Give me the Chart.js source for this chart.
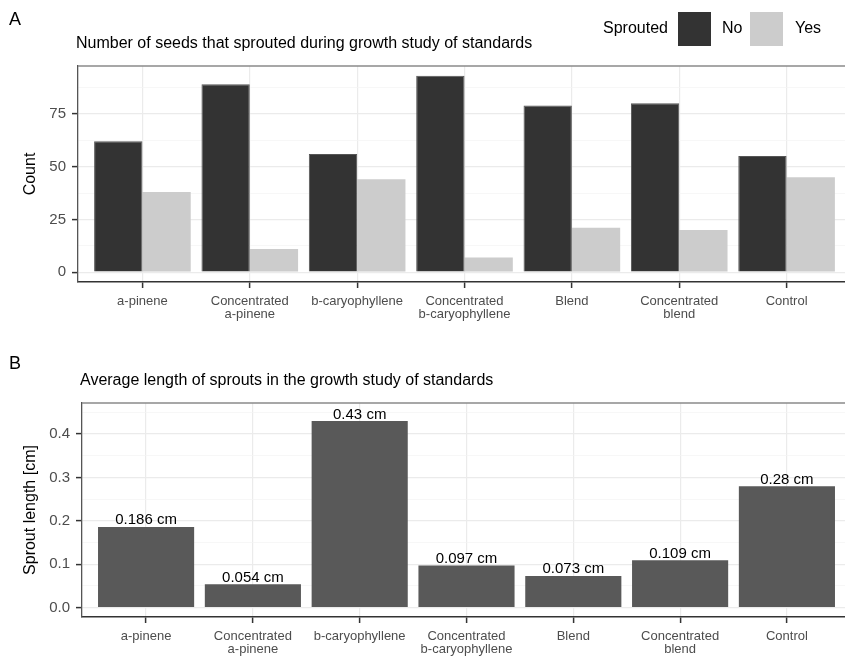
<!DOCTYPE html>
<html>
<head>
<meta charset="utf-8">
<script src="https://cdn.jsdelivr.net/npm/chart.js@4.4.1/dist/chart.umd.min.js"></script>
<style>
  html, body { margin: 0; padding: 0; background: #fff; overflow: hidden; width: 845px; height: 656px; }
  #wrap { position: relative; width: 852px; height: 656px; }
  canvas { position: absolute; left: 0; }
  #countChart { top: 0; }
  #lengthChart { top: 322px; }
</style>
</head>
<body>
<div id="wrap">
  <canvas id="countChart" width="852" height="322"></canvas>
  <canvas id="lengthChart" width="852" height="334"></canvas>
</div>
<script>
// Treatments (multi-line axis labels)
const categories = [
  ['a-pinene'],
  ['Concentrated', 'a-pinene'],
  ['b-caryophyllene'],
  ['Concentrated', 'b-caryophyllene'],
  ['Blend'],
  ['Concentrated', 'blend'],
  ['Control']
];
// Seeds per treatment, split by whether they sprouted
const sproutedNo  = [62, 89, 56, 93, 79, 80, 55];
const sproutedYes = [38, 11, 44, 7, 21, 20, 45];
// Mean sprout length per treatment (cm)
const sproutLength = [0.186, 0.054, 0.43, 0.097, 0.073, 0.109, 0.28];
// Labelled (major) y ticks
const countTicks  = [0, 25, 50, 75];
const lengthTicks = [0, 0.1, 0.2, 0.3, 0.4];

const FONT = "'Liberation Sans', Arial, sans-serif";
const TICK_GREY = '#4D4D4D';
const GRID_MAJOR = '#EBEBEB';
const GRID_MINOR = '#F3F3F3';

const toPoints = arr => arr.map((v, i) => ({ x: i + 1, y: v }));
const isIn = (list, v) => list.some(t => Math.abs(t - v) < 1e-9);

function xAxis(height) {
  return {
    type: 'linear',
    min: 0.4,
    max: 7.6,
    offset: false,
    afterFit: s => { s.height = height; },
    ticks: {
      stepSize: 1,
      includeBounds: false,
      autoSkip: false,
      maxRotation: 0,
      padding: 7,
      color: TICK_GREY,
      font: { family: FONT, size: 13, lineHeight: 1.0 },
      callback: v => categories[Math.round(v) - 1] || ''
    },
    grid: {
      offset: false,
      color: GRID_MAJOR,
      lineWidth: 1.2,
      drawTicks: true,
      tickLength: 6,
      tickColor: '#333333',
      tickWidth: 1.5
    },
    border: { display: true, color: '#333333', width: 1.5 }
  };
}

function yAxis(opts) {
  return {
    type: 'linear',
    min: opts.min,
    max: opts.max,
    afterFit: s => { s.width = opts.width; },
    ticks: {
      stepSize: opts.step,
      includeBounds: false,
      autoSkip: false,
      padding: 6,
      color: TICK_GREY,
      font: { family: FONT, size: 15 },
      callback: opts.format
    },
    grid: {
      color: c => (c.tick && isIn(opts.major, c.tick.value)) ? GRID_MAJOR : GRID_MINOR,
      lineWidth: c => (c.tick && isIn(opts.major, c.tick.value)) ? 1.2 : 0.7,
      drawTicks: true,
      tickLength: 6,
      tickWidth: 1.5,
      tickColor: c => (c.tick && isIn(opts.major, c.tick.value)) ? '#333333' : 'rgba(0,0,0,0)'
    },
    border: { display: true, color: '#555555', width: 1.3 },
    title: {
      display: true,
      text: opts.title,
      color: '#000',
      font: { family: FONT, size: 16 },
      padding: { top: 21, bottom: 0 }
    }
  };
}

// Panel letter, chart title, top frame line and (optionally) an inline legend
function headerPlugin(letter, title, letterY, titleY, withLegend) {
  return {
    id: 'header_' + letter,
    afterDraw(chart) {
      const { ctx, chartArea } = chart;
      ctx.save();
      // top frame of the panel
      ctx.strokeStyle = '#8A8A8A';
      ctx.lineWidth = 1.3;
      ctx.beginPath();
      ctx.moveTo(chartArea.left, chartArea.top);
      ctx.lineTo(chartArea.right, chartArea.top);
      ctx.stroke();

      ctx.fillStyle = '#000';
      ctx.textBaseline = 'middle';
      ctx.textAlign = 'left';
      ctx.font = '18px ' + FONT;
      ctx.fillText(letter, 9, letterY);
      ctx.font = '16px ' + FONT;
      ctx.fillText(title, chartArea.left - 2, titleY);

      if (withLegend) {
        const ds = chart.data.datasets;
        ctx.fillText('Sprouted', 603, 29);
        const keys = [
          { box: 678, text: 722 },
          { box: 750, text: 795 }
        ];
        ds.forEach((d, i) => {
          ctx.fillStyle = d.backgroundColor;
          ctx.fillRect(keys[i].box, 12, 33, 34);
          ctx.fillStyle = '#000';
          ctx.fillText(d.label, keys[i].text, 29);
        });
      }
      ctx.restore();
    }
  };
}

// Value labels above the sprout-length bars
const valueLabels = {
  id: 'valueLabels',
  afterDatasetsDraw(chart) {
    const { ctx } = chart;
    const meta = chart.getDatasetMeta(0);
    const data = chart.data.datasets[0].data;
    ctx.save();
    ctx.fillStyle = '#000';
    ctx.font = '15px ' + FONT;
    ctx.textAlign = 'center';
    ctx.textBaseline = 'alphabetic';
    meta.data.forEach((bar, i) => {
      ctx.fillText(data[i].y + ' cm', bar.x, bar.y - 2.5);
    });
    ctx.restore();
  }
};

new Chart(document.getElementById('countChart'), {
  type: 'bar',
  data: {
    datasets: [
      { label: 'No',  data: toPoints(sproutedNo),  backgroundColor: '#333333', borderColor: '#555555', borderWidth: 1 },
      { label: 'Yes', data: toPoints(sproutedYes), backgroundColor: '#CCCCCC', borderWidth: 0 }
    ]
  },
  options: {
    responsive: false,
    animation: false,
    devicePixelRatio: 1,
    categoryPercentage: 0.9,
    barPercentage: 1.0,
    layout: { padding: { top: 66, left: 0, right: 1, bottom: 0 } },
    plugins: { legend: { display: false }, tooltip: { enabled: false }, title: { display: false } },
    scales: {
      x: xAxis(40),
      y: yAxis({
        min: -4.65, max: 97.65, step: 12.5, width: 78, major: countTicks, title: 'Count',
        format: v => isIn(countTicks, v) ? String(v) : ''
      })
    }
  },
  plugins: [headerPlugin('A', 'Number of seeds that sprouted during growth study of standards', 20, 44, true)]
});

new Chart(document.getElementById('lengthChart'), {
  type: 'bar',
  data: {
    datasets: [
      { label: 'Sprout length', data: toPoints(sproutLength), backgroundColor: '#595959', borderWidth: 0 }
    ]
  },
  options: {
    responsive: false,
    animation: false,
    devicePixelRatio: 1,
    categoryPercentage: 0.9,
    barPercentage: 1.0,
    layout: { padding: { top: 81, left: 0, right: 1, bottom: 0 } },
    plugins: { legend: { display: false }, tooltip: { enabled: false }, title: { display: false } },
    scales: {
      x: xAxis(39),
      y: yAxis({
        min: -0.0215, max: 0.4715, step: 0.05, width: 82, major: lengthTicks, title: 'Sprout length [cm]',
        format: v => isIn(lengthTicks, v) ? v.toFixed(1) : ''
      })
    }
  },
  plugins: [valueLabels, headerPlugin('B', 'Average length of sprouts in the growth study of standards', 42, 58.5, false)]
});
</script>
</body>
</html>
